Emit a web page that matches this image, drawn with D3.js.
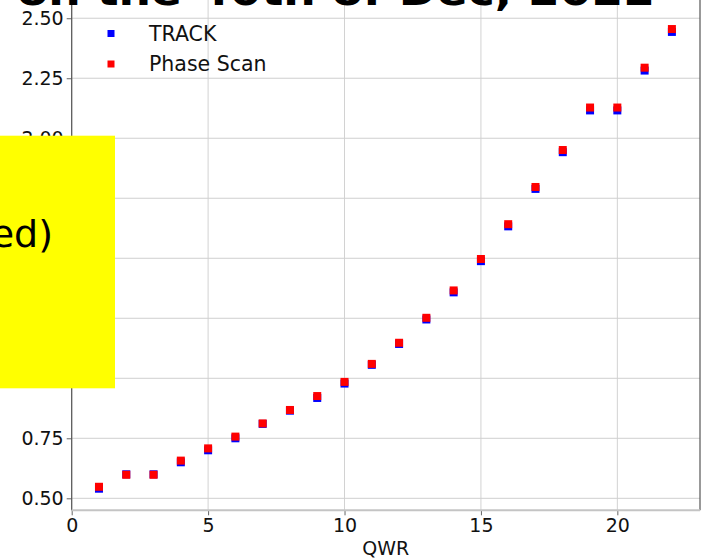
<!DOCTYPE html>
<html>
<head>
<meta charset="utf-8">
<script src="https://cdn.jsdelivr.net/npm/d3@7"></script>
<style>
  html, body { margin: 0; padding: 0; background: #fff; }
  svg { display: block; font-family: "DejaVu Sans", sans-serif; }
</style>
</head>
<body>
<svg id="chart" width="704" height="559"></svg>
<script>
// QWR index along the line
const qwr = [1, 2, 3, 4, 5, 6, 7, 8, 9, 10, 11, 12, 13, 14, 15, 16, 17, 18, 19, 20, 21, 22];
// Values from the TRACK simulation
const track = [0.540, 0.600, 0.600, 0.650, 0.700, 0.750, 0.810, 0.865, 0.918, 0.978, 1.056, 1.143,
               1.245, 1.358, 1.488, 1.633, 1.789, 1.942, 2.116, 2.116, 2.282, 2.443];
// Values from the phase scan
const phaseScan = [0.548, 0.598, 0.598, 0.657, 0.708, 0.757, 0.812, 0.868, 0.926, 0.985, 1.060, 1.148,
                   1.252, 1.366, 1.497, 1.642, 1.797, 1.951, 2.128, 2.128, 2.294, 2.455];
const xTicks = [0, 5, 10, 15, 20];
const yTicks = [0.50, 0.75, 1.00, 1.25, 1.50, 1.75, 2.00, 2.25, 2.50];
const seriesNames = ["TRACK", "Phase Scan"];
const seriesColors = ["#0000ff", "#ff0000"];
const titleText = "on the 40th of Dec, 2022";
const xLabel = "QWR";

(function draw() {
  const svg = d3.select("#chart");
  const mLeft = 71.7, mRight = 700, mBottom = 510.3, mTop = 0;

  const x = d3.scaleLinear().domain([0, 23.03]).range([mLeft, mRight]);
  const y = d3.scaleLinear().domain([0.45, 2.576]).range([mBottom, mTop]);

  // grid
  const grid = svg.append("g");
  grid.selectAll("line.gx").data(xTicks).join("line").attr("class", "gx")
    .attr("x1", d => x(d)).attr("x2", d => x(d))
    .attr("y1", mTop).attr("y2", mBottom)
    .attr("stroke", "#d2d2d2").attr("stroke-width", 1);
  grid.selectAll("line.gy").data(yTicks).join("line").attr("class", "gy")
    .attr("x1", mLeft).attr("x2", mRight)
    .attr("y1", d => y(d)).attr("y2", d => y(d))
    .attr("stroke", "#cfcfcf").attr("stroke-width", 1);

  // axes
  const xAxis = svg.append("g").attr("transform", `translate(0,${mBottom})`)
    .call(d3.axisBottom(x).tickValues(xTicks).tickFormat(d3.format("d")).tickSize(5).tickPadding(3));
  const yAxis = svg.append("g").attr("transform", `translate(${mLeft},0)`)
    .call(d3.axisLeft(y).tickValues(yTicks).tickFormat(d3.format(".2f")).tickSize(5).tickPadding(3));
  [xAxis, yAxis].forEach(g => {
    g.select(".domain").remove();
    g.selectAll(".tick line").attr("stroke", "#666");
    g.selectAll(".tick text").attr("fill", "#111").style("font-size", "19px")
      .style("font-family", "'DejaVu Sans', sans-serif");
  });

  // spines
  svg.append("line").attr("x1", mLeft).attr("x2", mLeft).attr("y1", mTop).attr("y2", mBottom)
    .attr("stroke", "#555").attr("stroke-width", 1.2);
  svg.append("line").attr("x1", mRight).attr("x2", mRight).attr("y1", mTop).attr("y2", mBottom)
    .attr("stroke", "#555").attr("stroke-width", 1.2);
  svg.append("line").attr("x1", mLeft).attr("x2", mRight).attr("y1", mBottom).attr("y2", mBottom)
    .attr("stroke", "#c4c4c4").attr("stroke-width", 2);

  // markers
  const ms = 8;
  [track, phaseScan].forEach((vals, i) => {
    svg.append("g").selectAll("rect").data(qwr.map((q, k) => [q, vals[k]])).join("rect")
      .attr("x", d => x(d[0]) - ms / 2).attr("y", d => y(d[1]) - ms / 2)
      .attr("width", ms).attr("height", ms)
      .attr("fill", seriesColors[i]);
  });

  // legend
  const legend = svg.append("g");
  seriesNames.forEach((name, i) => {
    const ly = 33.5 + i * 30.5;
    legend.append("rect").attr("x", 107.5).attr("y", ly - 3.5).attr("width", 7).attr("height", 7)
      .attr("fill", seriesColors[i]);
    legend.append("text").attr("x", 149).attr("y", ly).attr("dy", "0.36em")
      .style("font-size", "20.5px").attr("fill", "#111").text(name);
  });

  // x label
  svg.append("text").attr("x", (mLeft + mRight) / 2).attr("y", 555)
    .attr("text-anchor", "middle").style("font-size", "19px").attr("fill", "#111").text(xLabel);

  // title
  svg.append("text").attr("x", 17).attr("y", 5)
    .attr("textLength", 638).attr("lengthAdjust", "spacingAndGlyphs")
    .style("font-size", "40px").style("font-weight", "bold").attr("fill", "#000").text(titleText);

  // yellow note box
  svg.append("rect").attr("x", 0).attr("y", 135.7).attr("width", 115).attr("height", 252.6)
    .attr("fill", "#ffff00");
  svg.append("text").attr("x", 53).attr("y", 247).attr("text-anchor", "end")
    .style("font-size", "38px").attr("fill", "#000").text("(Not yet published)");
})();
</script>
</body>
</html>
